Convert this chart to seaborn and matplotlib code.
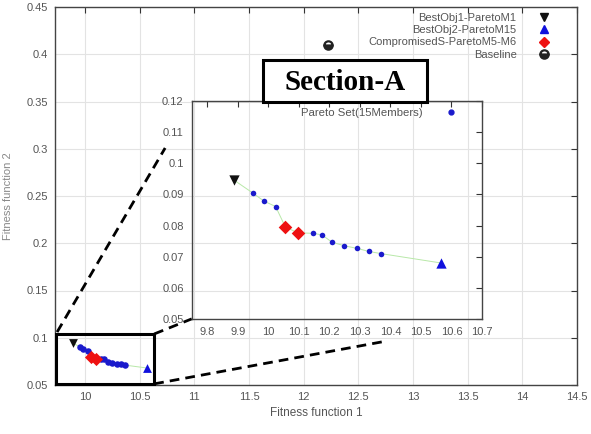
import matplotlib
matplotlib.use("Agg")
import matplotlib.pyplot as plt
from matplotlib.patches import Rectangle
from matplotlib.lines import Line2D
import seaborn as sns
import pandas as pd

# ---------------- data ----------------
pareto_f1 = [9.889, 9.950, 9.985, 10.024, 10.056, 10.097, 10.147, 10.176,
             10.208, 10.249, 10.290, 10.329, 10.369, 10.565]
pareto_f2 = [0.0945, 0.0904, 0.0879, 0.0861, 0.0795, 0.0777, 0.0775, 0.0770,
             0.0747, 0.0735, 0.0727, 0.0717, 0.0710, 0.0680]
pareto_role = ["best1", "set", "set", "set", "comp", "comp", "set", "set",
               "set", "set", "set", "set", "set", "best2"]
baseline_f1 = [12.22]
baseline_f2 = [0.41]

legend_labels = ["BestObj1-ParetoM1", "BestObj2-ParetoM15",
                 "CompromisedS-ParetoM5-M6", "Baseline"]
inset_label = "Pareto Set(15Members)"
main_xticks = [10, 10.5, 11, 11.5, 12, 12.5, 13, 13.5, 14, 14.5]
main_yticks = [0.05, 0.1, 0.15, 0.2, 0.25, 0.3, 0.35, 0.4, 0.45]
inset_xticks = [9.8, 9.9, 10, 10.1, 10.2, 10.3, 10.4, 10.5, 10.6, 10.7]
inset_yticks = [0.05, 0.06, 0.07, 0.08, 0.09, 0.1, 0.11, 0.12]

df = pd.DataFrame({"f1": pareto_f1, "f2": pareto_f2, "role": pareto_role})
base = pd.DataFrame({"f1": baseline_f1, "f2": baseline_f2})

# ---------------- style ----------------
sns.set_theme(style="white")
plt.rcParams["font.family"] = ["Liberation Sans", "DejaVu Sans"]
TXT = "#555555"

W, H = 591, 434
fig = plt.figure(figsize=(W / 100, H / 100), dpi=100)

def px_axes(l, t, r, b):
    return fig.add_axes([l / W, 1 - b / H, (r - l) / W, (b - t) / H])

ax = px_axes(55, 7, 577, 385)
ins = px_axes(192, 101, 482, 319)

def style_axes(a, xt, yt, xl, yl, grid, pad):
    a.set_xlim(*xl)
    a.set_ylim(*yl)
    a.set_xticks(xt)
    a.set_yticks(yt)
    a.set_xticklabels(["%g" % v for v in xt])
    a.set_yticklabels(["%g" % v for v in yt])
    a.tick_params(direction="in", top=True, right=True, length=4, width=0.8,
                  color="#333333", labelsize=8, labelcolor=TXT, pad=pad)
    for s in a.spines.values():
        s.set_color("#444444")
        s.set_linewidth(1.0)
    if grid:
        a.grid(True, color="#e3e3e3", lw=0.8)
        a.set_axisbelow(True)
    else:
        a.grid(False)
    a.set_xlabel("")
    a.set_ylabel("")

GREEN = "#b8e8a8"

def draw_points(a, s_dot, s_tri, s_dia, show_base):
    sns.lineplot(data=df, x="f1", y="f2", ax=a, color=GREEN, lw=0.7,
                 sort=False, estimator=None, legend=False, zorder=2)
    sns.scatterplot(data=df[df.role == "set"], x="f1", y="f2", ax=a,
                    color="#1a1acc", marker="o", s=s_dot, linewidth=0,
                    zorder=3, legend=False)
    sns.scatterplot(data=df[df.role == "best1"], x="f1", y="f2", ax=a,
                    color="#111111", marker="v", s=s_tri, linewidth=0,
                    zorder=4, legend=False)
    sns.scatterplot(data=df[df.role == "best2"], x="f1", y="f2", ax=a,
                    color="#1010dd", marker="^", s=s_tri, linewidth=0,
                    zorder=4, legend=False)
    sns.scatterplot(data=df[df.role == "comp"], x="f1", y="f2", ax=a,
                    color="#ee1111", marker="D", s=s_dia, linewidth=0,
                    zorder=4, legend=False)
    if show_base:
        a.plot(base.f1, base.f2, ls="none", marker="o", ms=6,
               fillstyle="bottom", markerfacecolor="#222222",
               markerfacecoloralt="white", markeredgecolor="#222222",
               markeredgewidth=1.6, zorder=4)

# main axes
draw_points(ax, 22, 40, 45, True)
style_axes(ax, main_xticks, main_yticks, (9.725, 14.5), (0.05, 0.45), True, 5)
ax.set_xlabel("Fitness function 1", fontsize=8.5, color=TXT, labelpad=4)
ax.set_ylabel("Fitness function 2", fontsize=8, color="#888888")
ax.yaxis.set_label_coords(-0.080, 0.5)

handles = [
    Line2D([], [], ls="none", marker="v", color="#111111", ms=6),
    Line2D([], [], ls="none", marker="^", color="#1010dd", ms=6),
    Line2D([], [], ls="none", marker="D", color="#ee1111", ms=5),
    Line2D([], [], ls="none", marker="o", ms=6, fillstyle="bottom",
           markerfacecolor="#222222", markerfacecoloralt="white",
           markeredgecolor="#222222", markeredgewidth=1.6),
]
leg = ax.legend(handles, legend_labels, loc="upper right",
                bbox_to_anchor=(0.948, 0.984), frameon=False, markerfirst=False,
                fontsize=8, labelspacing=0.2, handlelength=1.0,
                handletextpad=2.0, borderpad=0, borderaxespad=0)
for t in leg.get_texts():
    t.set_color(TXT)

# zoom box and connector lines
ax.add_patch(Rectangle((9.735, 0.051), 0.895, 0.053, fill=False,
                       ec="black", lw=2.2, zorder=6, clip_on=False))
for (x0, y0), (x1, y1) in [((0.004, 0.140), (0.211, 0.627)),
                           ((0.190, 0.003), (0.626, 0.114)),
                           ((0.190, 0.135), (0.262, 0.175))]:
    ax.plot([x0, x1], [y0, y1], transform=ax.transAxes, color="black",
            lw=2.0, dashes=(3.5, 2.2), clip_on=False, zorder=6)

# inset
draw_points(ins, 16, 55, 48, False)
style_axes(ins, inset_xticks, inset_yticks, (9.75, 10.7), (0.05, 0.12), False, 6)
ins.patch.set_alpha(0)
ih = [Line2D([], [], ls="none", marker="o", color="#1a1acc", ms=3.5)]
leg2 = ins.legend(ih, [inset_label], loc="upper right",
                  bbox_to_anchor=(0.914, 0.966), frameon=False,
                  markerfirst=False, fontsize=8.2, handlelength=1.0,
                  handletextpad=2.0, borderpad=0, borderaxespad=0)
for t in leg2.get_texts():
    t.set_color(TXT)

# Section-A label box
fig.patches.append(Rectangle((263 / W, 1 - 102 / H), 164 / W, 42 / H,
                             transform=fig.transFigure, fill=True, fc="white",
                             ec="black", lw=2.2, zorder=10))
fig.text(345 / W, 1 - 82 / H, "Section-A", ha="center", va="center",
         fontsize=21, fontweight="bold", family="Liberation Serif",
         color="black", zorder=11)

fig.savefig("out.png", dpi=100)
